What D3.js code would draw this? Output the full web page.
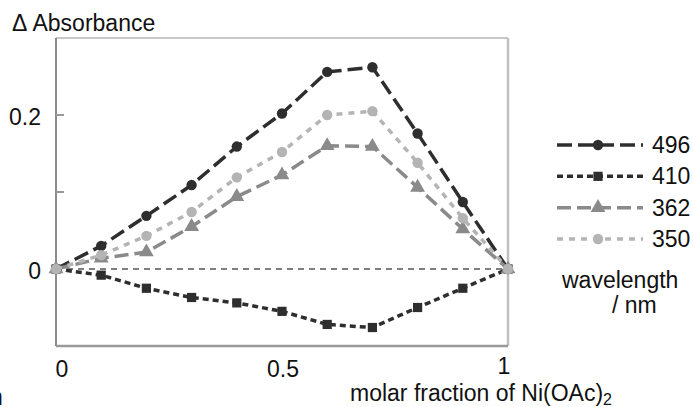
<!DOCTYPE html>
<html>
<head>
<meta charset="utf-8">
<script src="https://cdn.jsdelivr.net/npm/d3@7"></script>
<style>
  body { margin: 0; background: #fff; }
  text { font-family: "Liberation Sans", Arial, sans-serif; fill: #111; }
</style>
</head>
<body>
<svg width="693" height="407"></svg>
<script>
const width = 693;
const height = 407;

// molar fraction of Ni(OAc)2
const fractions = [0, 0.1, 0.2, 0.3, 0.4, 0.5, 0.6, 0.7, 0.8, 0.9, 1];

// delta absorbance per wavelength
const abs496 = [0, 0.03, 0.069, 0.109, 0.159, 0.202, 0.256, 0.262, 0.176, 0.087, 0];
const abs410 = [0, -0.008, -0.025, -0.037, -0.044, -0.055, -0.072, -0.076, -0.05, -0.025, 0];
const abs362 = [0, 0.014, 0.022, 0.055, 0.094, 0.122, 0.16, 0.159, 0.106, 0.052, 0];
const abs350 = [0, 0.018, 0.043, 0.074, 0.119, 0.152, 0.2, 0.205, 0.138, 0.066, 0];

const wavelengths = ["496", "410", "362", "350"];
const yTicks = [0, 0.2];
const yMinorTicks = [0.1, 0.2];
const xTicks = [0, 0.5, 1];

const series = [
  { name: "496", values: abs496, color: "#2e2e2e", dash: "15,6", marker: "circle" },
  { name: "410", values: abs410, color: "#2e2e2e", dash: "6,4", marker: "square" },
  { name: "362", values: abs362, color: "#8a8a8a", dash: "14,6", marker: "triangle" },
  { name: "350", values: abs350, color: "#b4b4b4", dash: "6,6", marker: "circle" }
];

const margin = { top: 38, right: 185, bottom: 61, left: 56 };
const fs = 23;

const svg = d3.select("svg");

const x = d3.scaleLinear().domain([0, 1]).range([margin.left, width - margin.right]);
const y = d3.scaleLinear().domain([-0.1, 0.3]).range([height - margin.bottom, margin.top]);

const symbolFor = {
  circle: d3.symbol().type(d3.symbolCircle).size(85),
  square: d3.symbol().type(d3.symbolSquare).size(85),
  triangle: d3.symbol().type(d3.symbolTriangle).size(95)
};

// frame
svg.append("line")
  .attr("x1", x(0)).attr("x2", x(1))
  .attr("y1", y(0.3)).attr("y2", y(0.3))
  .attr("stroke", "#c8c8c8").attr("stroke-width", 2);
svg.append("line")
  .attr("x1", x(1)).attr("x2", x(1))
  .attr("y1", y(0.3)).attr("y2", y(-0.1))
  .attr("stroke", "#c0c0c0").attr("stroke-width", 2.5);
svg.append("line")
  .attr("x1", x(0)).attr("x2", x(0))
  .attr("y1", y(0.3)).attr("y2", y(-0.1))
  .attr("stroke", "#8c8c8c").attr("stroke-width", 2);
svg.append("line")
  .attr("x1", x(0)).attr("x2", x(1))
  .attr("y1", y(-0.1)).attr("y2", y(-0.1))
  .attr("stroke", "#999").attr("stroke-width", 2.5);

// little inner ticks on y axis
svg.append("g")
  .selectAll("line")
  .data(yMinorTicks)
  .join("line")
  .attr("x1", x(0)).attr("x2", x(0) + 8)
  .attr("y1", d => y(d)).attr("y2", d => y(d))
  .attr("stroke", "#999").attr("stroke-width", 2);

// zero line
svg.append("line")
  .attr("x1", x(0)).attr("x2", x(1))
  .attr("y1", y(0)).attr("y2", y(0))
  .attr("stroke", "#555").attr("stroke-width", 1.5)
  .attr("stroke-dasharray", "6,5");

// tick labels
svg.append("g")
  .selectAll("text")
  .data(yTicks)
  .join("text")
  .attr("x", 41)
  .attr("y", d => y(d) + 10)
  .attr("text-anchor", "end")
  .attr("font-size", fs)
  .text(d => d === 0 ? "0" : d3.format(".1f")(d));

svg.append("g")
  .selectAll("text")
  .data(xTicks)
  .join("text")
  .attr("x", d => x(d) + (d === 0 ? 6 : d === 1 ? -4 : 1))
  .attr("y", d => d === 1 ? 374 : 377)
  .attr("text-anchor", "middle")
  .attr("font-size", fs)
  .text(d => d === 0 ? "0" : d === 1 ? "1" : d3.format(".1f")(d));

// axis titles
svg.append("text")
  .attr("x", 12).attr("y", 31)
  .attr("font-size", fs)
  .text("\u0394 Absorbance");

const xt = svg.append("text")
  .attr("x", 350).attr("y", 401)
  .attr("font-size", fs);
xt.append("tspan").text("molar fraction of Ni(OAc)");
xt.append("tspan").attr("font-size", 16).attr("dy", 4).text("2");

svg.append("text")
  .attr("x", -10).attr("y", 405)
  .attr("font-size", fs)
  .text("n");

// lines + markers
const line = d3.line()
  .x((d, i) => x(fractions[i]))
  .y(d => y(d));

const plot = svg.append("g");

series.forEach(s => {
  plot.append("path")
    .datum(s.values)
    .attr("d", line)
    .attr("fill", "none")
    .attr("stroke", s.color)
    .attr("stroke-width", 3.5)
    .attr("stroke-dasharray", s.dash);

  plot.append("g")
    .selectAll("path")
    .data(s.values)
    .join("path")
    .attr("transform", (d, i) => `translate(${x(fractions[i])},${y(d)})`)
    .attr("d", symbolFor[s.marker])
    .attr("fill", s.color);
});

// legend
const legendY = d3.scalePoint().domain(wavelengths).range([145, 239]);

const legend = svg.append("g")
  .selectAll("g")
  .data(series)
  .join("g")
  .attr("transform", d => `translate(0,${legendY(d.name)})`);

legend.append("line")
  .attr("x1", 557).attr("x2", 643)
  .attr("y1", 0).attr("y2", 0)
  .attr("stroke", d => d.color)
  .attr("stroke-width", 3.5)
  .attr("stroke-dasharray", d => d.dash);

legend.append("path")
  .attr("transform", "translate(598,0)")
  .attr("d", d => symbolFor[d.marker]())
  .attr("fill", d => d.color);

legend.append("text")
  .attr("x", 652).attr("y", 8)
  .attr("font-size", fs)
  .text(d => d.name);

svg.append("text")
  .attr("x", 562).attr("y", 288)
  .attr("font-size", fs)
  .text("wavelength");
svg.append("text")
  .attr("x", 612).attr("y", 313)
  .attr("font-size", fs)
  .text("/ nm");
</script>
</body>
</html>
